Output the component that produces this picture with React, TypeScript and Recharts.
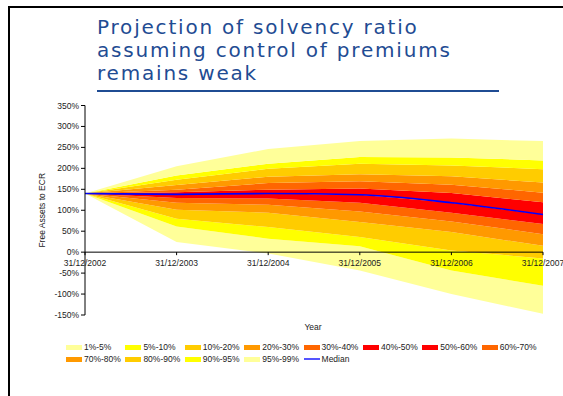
import React from 'react';
import { ComposedChart, Area, Line, XAxis, YAxis, ReferenceLine, ReferenceDot } from 'recharts';

// projection years (31 December of each year)
const years = [2002, 2003, 2004, 2005, 2006, 2007];

// simulated percentiles of free assets to ECR, in %
const p1 = [140, 24, -3, -44, -100, -147];
const p5 = [140, 61, 32, 14, -44, -80];
const p10 = [140, 80, 60, 36, 4, -15];
const p20 = [140, 101, 94, 72, 48, 15];
const p30 = [140, 118, 113, 97, 73, 43];
const p40 = [140, 129, 128, 118, 94, 67];
const p50 = [140, 138, 140, 137, 118, 90];
const p60 = [140, 143, 149, 152, 141, 119];
const p70 = [140, 149, 165, 169, 161, 142];
const p80 = [140, 160, 180, 186, 181, 166];
const p90 = [140, 173, 199, 211, 207, 198];
const p95 = [140, 183, 211, 227, 226, 219];
const p99 = [140, 205, 246, 265, 271, 265];

const yTicks = [-150, -100, -50, 0, 50, 100, 150, 200, 250, 300, 350];

const bands = [
  { name: '1%-5%', lo: p1, hi: p5, color: '#FFFF99' },
  { name: '5%-10%', lo: p5, hi: p10, color: '#FFFF00' },
  { name: '10%-20%', lo: p10, hi: p20, color: '#FFCC00' },
  { name: '20%-30%', lo: p20, hi: p30, color: '#FF9900' },
  { name: '30%-40%', lo: p30, hi: p40, color: '#FF6600' },
  { name: '40%-50%', lo: p40, hi: p50, color: '#FF0000' },
  { name: '50%-60%', lo: p50, hi: p60, color: '#FF0000' },
  { name: '60%-70%', lo: p60, hi: p70, color: '#FF6600' },
  { name: '70%-80%', lo: p70, hi: p80, color: '#FF9900' },
  { name: '80%-90%', lo: p80, hi: p90, color: '#FFCC00' },
  { name: '90%-95%', lo: p90, hi: p95, color: '#FFFF00' },
  { name: '95%-99%', lo: p95, hi: p99, color: '#FFFF99' },
];

const data = years.map((year, i) => {
  const row: Record<string, any> = { year, median: p50[i] };
  bands.forEach((b, k) => {
    row['band' + k] = [b.lo[i], b.hi[i]];
  });
  return row;
});

const font = '"Liberation Sans", Arial, sans-serif';

// x-axis tick drawn on the 0% line
const YearTick = (props: any) => {
  const { cx, cy, year } = props;
  return (
    <g>
      <line x1={cx} y1={cy} x2={cx} y2={cy + 3} stroke="#000" strokeWidth={1} />
      <text x={cx} y={cy + 14} textAnchor="middle" fontSize={8.5} fontFamily={font} fill="#222">
        {`31/12/${year}`}
      </text>
    </g>
  );
};

const Legend = () => {
  const items = [...bands.map((b) => ({ name: b.name, color: b.color, line: false })), { name: 'Median', color: '#5555FF', line: true }];
  return (
    <div
      style={{
        position: 'absolute',
        left: 66,
        top: 342,
        width: 480,
        display: 'flex',
        flexWrap: 'wrap',
        fontFamily: font,
        fontSize: 8.5,
        color: '#222',
        rowGap: 2,
      }}
    >
      {items.map((it) => (
        <div key={it.name} style={{ width: 59.4, display: 'flex', alignItems: 'center', height: 10 }}>
          <span
            style={{
              display: 'inline-block',
              width: 16,
              height: it.line ? 2 : 5,
              background: it.color,
              marginRight: 2,
            }}
          />
          <span>{it.name}</span>
        </div>
      ))}
    </div>
  );
};

export default function App() {
  return (
    <div style={{ position: 'absolute', left: 0, top: 0, width: 563, height: 396, background: '#fff', overflow: 'hidden' }}>
      <div style={{ position: 'absolute', left: 8, top: 6, width: 600, height: 420, borderLeft: '2px solid #000', borderTop: '2px solid #000' }} />
      <div
        style={{
          position: 'absolute',
          left: 97,
          top: 16,
          fontFamily: '"DejaVu Sans", Verdana, sans-serif',
          fontSize: 20,
          letterSpacing: 1.8,
          lineHeight: '22.8px',
          color: '#1F4C93',
          whiteSpace: 'pre',
        }}
      >
        {'Projection of solvency ratio\nassuming control of premiums\nremains weak'}
      </div>
      <div style={{ position: 'absolute', left: 97, top: 90, width: 402, height: 1.5, background: '#1F4C93' }} />
      <div style={{ position: 'absolute', left: 0, top: 0 }}>
        <ComposedChart width={563} height={396} data={data} margin={{ top: 105.5, right: 20, bottom: 81, left: 0 }}>
          <XAxis type="number" dataKey="year" domain={[2002, 2007]} hide />
          <YAxis
            width={85}
            domain={[-150, 350]}
            ticks={yTicks}
            interval={0}
            tickFormatter={(v: number) => `${v}%`}
            tick={{ fontSize: 8.5, fontFamily: font, fill: '#222' }}
            tickSize={4}
            axisLine={{ stroke: '#000', strokeWidth: 1 }}
            tickLine={{ stroke: '#000' }}
            label={{
              value: 'Free Assets to ECR',
              angle: -90,
              position: 'insideLeft',
              offset: 42,
              style: { fontSize: 8.5, fontFamily: font, fill: '#222', textAnchor: 'middle' },
            }}
          />
          {bands.map((b, k) => (
            <Area
              key={b.name}
              type="linear"
              dataKey={'band' + k}
              fill={b.color}
              fillOpacity={1}
              stroke="none"
              isAnimationActive={false}
            />
          ))}
          <ReferenceLine y={0} stroke="#000" strokeWidth={1} />
          {years.map((y) => (
            <ReferenceDot key={y} x={y} y={0} r={0} shape={(p: any) => <YearTick {...p} year={y} />} ifOverflow="visible" />
          ))}
          <Line type="monotone" dataKey="median" stroke="#0000FF" strokeWidth={1.6} dot={false} isAnimationActive={false} />
        </ComposedChart>
      </div>
      <div style={{ position: 'absolute', left: 0, width: 626, top: 322, textAlign: 'center', fontFamily: font, fontSize: 8.5, color: '#222' }}>
        Year
      </div>
      <Legend />
    </div>
  );
}
